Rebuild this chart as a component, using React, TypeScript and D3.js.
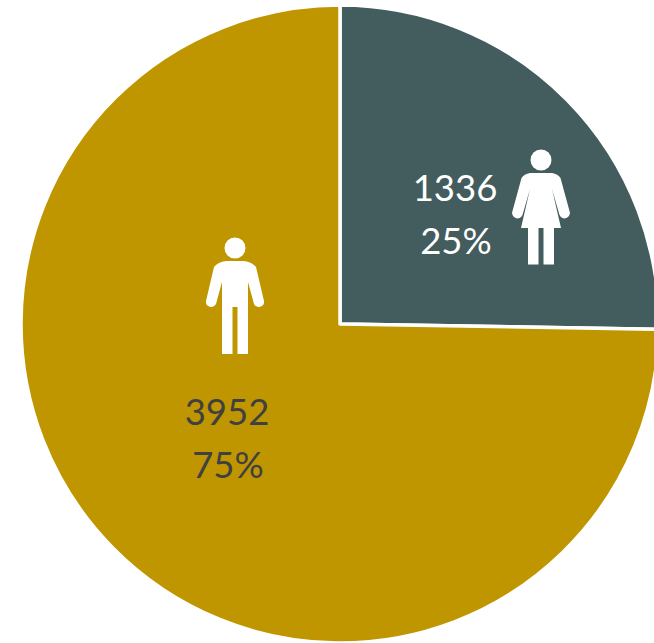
import * as d3 from 'd3';

const genders = ['female', 'male'];
const counts = [1336, 3952];
const shares = ['25%', '75%'];
const sliceColors = ['#435C5D', '#BF9600'];
const labelColors = ['#FFFFFF', '#404040'];

const width = 654;
const height = 643;
const cx = 340;
const cy = 324;
const radius = 319;

// icons are drawn around the head centre
const femaleBody =
  'M-11 13 L11 13 Q17 14 19.5 18 L28.5 51 A5.3 5.3 0 0 1 18.5 55 L11 29 L20 68 L13 68 L13 104.5 L2.5 104.5 L2.5 68 L-2.5 68 L-2.5 104.5 L-13 104.5 L-13 68 L-20 68 L-11 29 L-18.5 55 A5.3 5.3 0 0 1 -28.5 51 L-19.5 18 Q-17 14 -11 13 Z';
const maleBody =
  'M-9 13 L9 13 Q17 14 21 19 L29 53 A5.3 5.3 0 0 1 19 56 L13 34 L13 106 L2.5 106 L2.5 59 L-2.5 59 L-2.5 106 L-13 106 L-13 34 L-19 56 A5.3 5.3 0 0 1 -29 53 L-21 19 Q-17 14 -9 13 Z';

const icons = [
  { body: femaleBody, x: 541, y: 160 },
  { body: maleBody, x: 235, y: 248 },
];
const labelSpots = [
  { x: 455, y: 201, gap: 53 },
  { x: 227, y: 425, gap: 53 },
];

export default function App() {
  const pie = d3.pie<number>().sort(null)(counts);
  const arc = d3.arc<d3.PieArcDatum<number>>().innerRadius(0).outerRadius(radius);

  return (
    <svg
      width={width}
      height={height}
      style={{ position: 'absolute', left: 0, top: 0, background: '#fff' }}
    >
      <g transform={`translate(${cx},${cy})`}>
        {pie.map((d, i) => (
          <path
            key={genders[i]}
            d={arc(d) ?? ''}
            fill={sliceColors[i]}
            stroke="#fff"
            strokeWidth={3.5}
            strokeLinejoin="round"
          />
        ))}
      </g>
      {icons.map((icon, i) => (
        <g key={genders[i]} transform={`translate(${icon.x},${icon.y})`} fill="#fff">
          <circle r={10.5} />
          <path d={icon.body} />
        </g>
      ))}
      {counts.map((count, i) => (
        <text
          key={genders[i]}
          fontFamily="Lato, 'Open Sans', sans-serif"
          fontSize={36.5}
          textAnchor="middle"
          fill={labelColors[i]}
        >
          <tspan x={labelSpots[i].x} y={labelSpots[i].y}>
            {count}
          </tspan>
          <tspan x={labelSpots[i].x + 1} y={labelSpots[i].y + labelSpots[i].gap}>
            {shares[i]}
          </tspan>
        </text>
      ))}
    </svg>
  );
}
